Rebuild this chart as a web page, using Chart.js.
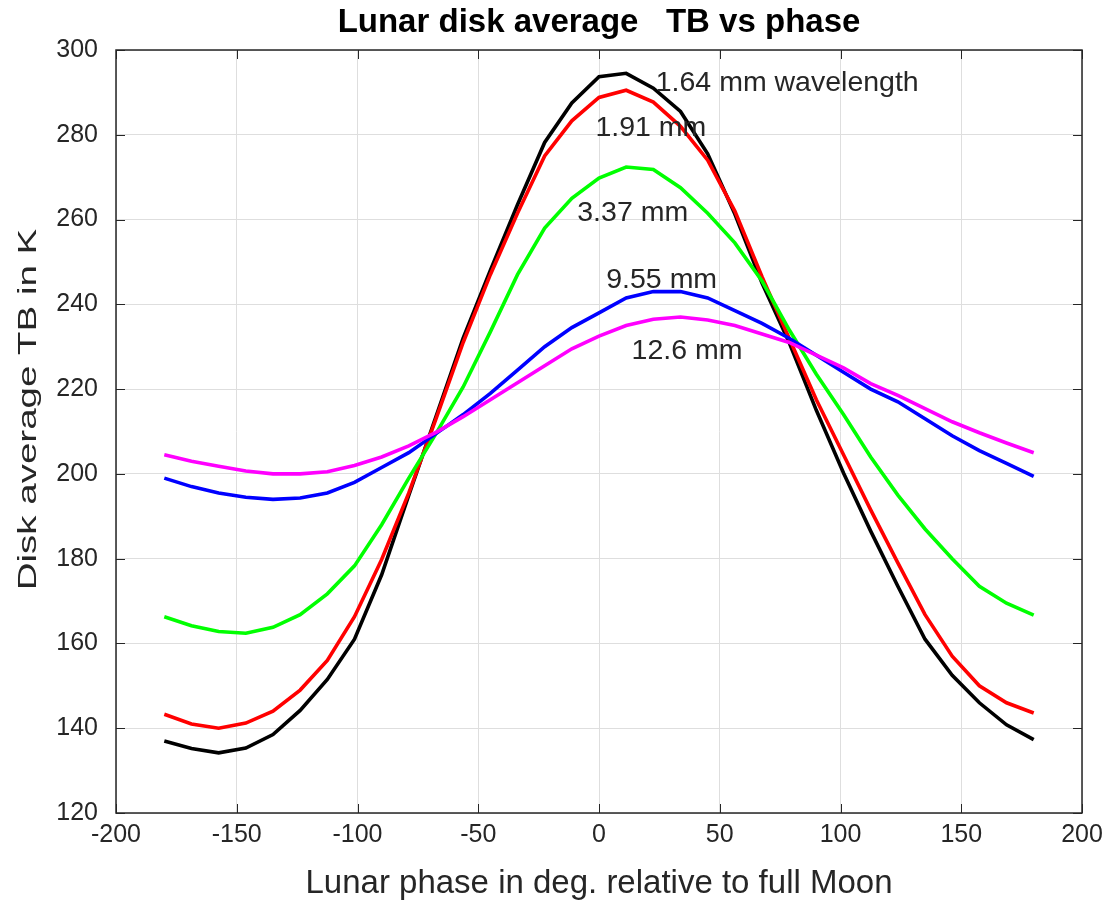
<!DOCTYPE html>
<html>
<head>
<meta charset="utf-8">
<script src="https://cdn.jsdelivr.net/npm/chart.js@4.4.1/dist/chart.umd.min.js"></script>
<style>
  html, body { margin: 0; padding: 0; background: #fff; }
  #wrap { width: 1118px; height: 910px; }
</style>
</head>
<body>
<div id="wrap"><canvas id="tb-chart" width="1118" height="910"></canvas></div>
<script>
// lunar phase, degrees relative to full Moon
const phase = [-180, -168.75, -157.5, -146.25, -135, -123.75, -112.5, -101.25, -90, -78.75, -67.5,
  -56.25, -45, -33.75, -22.5, -11.25, 0, 11.25, 22.5, 33.75, 45, 56.25, 67.5, 78.75, 90,
  101.25, 112.5, 123.75, 135, 146.25, 157.5, 168.75, 180];

// disk average brightness temperature (K) per wavelength
const tb164 = [137, 135.2, 134.2, 135.3, 138.5, 144.2, 151.5, 161, 176.2, 195, 213.5, 232, 248, 263.5,
  278.2, 287.5, 293.7, 294.5, 291, 285.5, 275.5, 261.3, 245, 231, 215, 200.2, 186.5, 173.5, 161,
  152.5, 146, 140.8, 137.3];
const tb191 = [143.3, 141, 140, 141.2, 144, 149, 156, 166.3, 179.8, 195.5, 213, 231, 247, 261.5,
  275, 283.3, 288.8, 290.5, 287.7, 282, 274, 262, 246.5, 232, 217.5, 204.5, 191.5, 179, 166.8,
  157, 150, 146, 143.6];
const tb337 = [166.3, 164.2, 162.8, 162.4, 163.8, 166.8, 171.7, 178.3, 188, 199, 209.5, 220.5, 233.5,
  247, 258, 265, 269.8, 272.4, 271.8, 267.5, 261.5, 254.5, 245.5, 234, 223.5, 214, 204, 195,
  187, 180, 173.5, 169.5, 166.7];
const tb955 = [199, 197, 195.5, 194.5, 194, 194.3, 195.5, 198, 201.5, 205, 209.5, 214, 219, 224.5,
  230, 234.5, 238, 241.5, 243, 243, 241.5, 238.5, 235.5, 232, 228, 224, 220, 217, 213, 209,
  205.5, 202.5, 199.4];
const tb126 = [204.5, 203, 201.8, 200.7, 200, 200, 200.5, 202, 204, 206.6, 209.8, 213.5, 217.5,
  221.5, 225.5, 229.5, 232.5, 235, 236.5, 237, 236.3, 235, 233, 231, 228, 225, 221.3, 218.5,
  215.4, 212.3, 209.7, 207.3, 205];

const seriesNames = ['1.64 mm', '1.91 mm', '3.37 mm', '9.55 mm', '12.6 mm'];
const seriesColors = ['#000000', '#ff0000', '#00ff00', '#0000ff', '#ff00ff'];

// in-plot text labels: text, phase, TB
const labelText = ['1.64 mm wavelength', '1.91 mm', '3.37 mm', '9.55 mm', '12.6 mm'];
const labelX = [23.5, -1.5, -9, 3, 13.5];
const labelY = [292.2, 281.6, 261.6, 245.7, 228.9];

const xTicks = [-200, -150, -100, -50, 0, 50, 100, 150, 200];
const yTicks = [120, 140, 160, 180, 200, 220, 240, 260, 280, 300];

const FONT = 'Liberation Sans, Arial, Helvetica, sans-serif';
const INK = '#262626';

const allSeries = [tb164, tb191, tb337, tb955, tb126];
const datasets = allSeries.map((vals, i) => ({
  label: seriesNames[i],
  data: phase.map((p, k) => ({ x: p, y: vals[k] })),
  borderColor: seriesColors[i],
  backgroundColor: seriesColors[i],
  borderWidth: 3.6,
  pointRadius: 0,
  tension: 0,
  order: allSeries.length - i
}));

// box round the plot with inward tick marks, like the original figure
const frame = {
  id: 'frame',
  afterDatasetsDraw(chart) {
    const { ctx, chartArea: a, scales } = chart;
    const len = 9;
    ctx.save();
    ctx.strokeStyle = INK;
    ctx.lineWidth = 1;
    ctx.beginPath();
    xTicks.forEach(v => {
      const px = Math.round(scales.x.getPixelForValue(v)) + 0.5;
      ctx.moveTo(px, a.bottom); ctx.lineTo(px, a.bottom - len);
      ctx.moveTo(px, a.top); ctx.lineTo(px, a.top + len);
    });
    yTicks.forEach(v => {
      const py = Math.round(scales.y.getPixelForValue(v)) + 0.5;
      ctx.moveTo(a.left, py); ctx.lineTo(a.left + len, py);
      ctx.moveTo(a.right, py); ctx.lineTo(a.right - len, py);
    });
    ctx.stroke();
    ctx.lineWidth = 1.5;
    ctx.strokeRect(a.left, a.top, a.right - a.left, a.bottom - a.top);
    ctx.restore();
  }
};

// wavelength labels placed in data coordinates
const curveLabels = {
  id: 'curveLabels',
  afterDatasetsDraw(chart) {
    const { ctx, scales } = chart;
    ctx.save();
    ctx.font = '28.5px ' + FONT;
    ctx.fillStyle = INK;
    ctx.textAlign = 'left';
    ctx.textBaseline = 'middle';
    labelText.forEach((t, i) => {
      ctx.fillText(t, scales.x.getPixelForValue(labelX[i]), scales.y.getPixelForValue(labelY[i]));
    });
    ctx.restore();
  }
};

// y axis title, drawn stretched along its length as in the reference
const yTitle = {
  id: 'yTitle',
  afterDraw(chart) {
    const { ctx, chartArea: a } = chart;
    ctx.save();
    ctx.translate(29, (a.top + a.bottom) / 2 - 22);
    ctx.rotate(-Math.PI / 2);
    ctx.scale(1.48, 1);
    ctx.font = '26px ' + FONT;
    ctx.fillStyle = INK;
    ctx.textAlign = 'center';
    ctx.textBaseline = 'middle';
    ctx.fillText('Disk average TB in K', 0, 0);
    ctx.restore();
  }
};

const chart = new Chart(document.getElementById('tb-chart'), {
  type: 'line',
  data: { datasets },
  options: {
    responsive: false,
    animation: false,
    devicePixelRatio: 1,
    layout: { padding: { left: 0, right: 36, top: 0, bottom: 0 } },
    plugins: {
      legend: { display: false },
      tooltip: { enabled: false },
      title: {
        display: true,
        fullSize: false,
        text: 'Lunar disk average   TB vs phase',
        color: '#000',
        font: { family: FONT, size: 33, weight: 'bold', lineHeight: 1.2 },
        padding: { top: 3, bottom: 7.4 }
      }
    },
    scales: {
      x: {
        type: 'linear',
        min: -200,
        max: 200,
        afterBuildTicks: s => { s.ticks = xTicks.map(v => ({ value: v })); },
        afterFit: s => { s.height = 97; },
        grid: { color: '#dedede', lineWidth: 1, drawTicks: false },
        border: { display: false },
        ticks: { color: INK, font: { family: FONT, size: 25 }, padding: 7, maxRotation: 0 },
        title: {
          display: true,
          text: 'Lunar phase in deg. relative to full Moon',
          color: INK,
          font: { family: FONT, size: 33, lineHeight: 1.2 },
          padding: { top: 0, bottom: 6 }
        }
      },
      y: {
        type: 'linear',
        min: 120,
        max: 300,
        afterBuildTicks: s => { s.ticks = yTicks.map(v => ({ value: v })); },
        afterFit: s => { s.width = 116; },
        grid: { color: '#dedede', lineWidth: 1, drawTicks: false },
        border: { display: false },
        ticks: { color: INK, font: { family: FONT, size: 25 }, padding: 18 }
      }
    }
  },
  plugins: [frame, curveLabels, yTitle]
});
</script>
</body>
</html>
